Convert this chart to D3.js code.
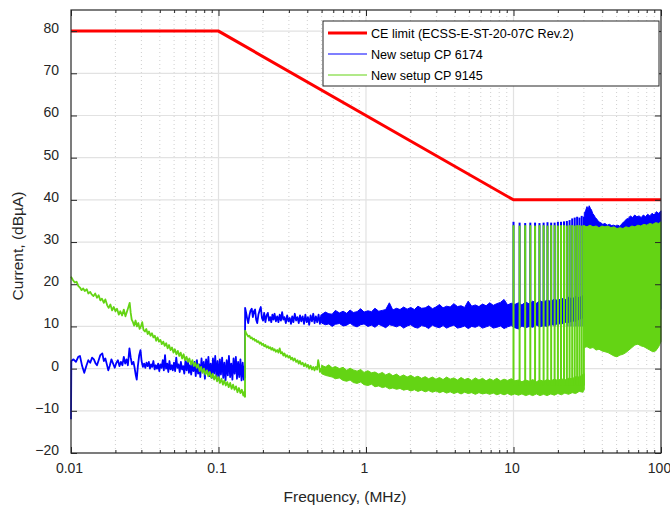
<!DOCTYPE html>
<html>
<head>
<meta charset="utf-8">
<script src="https://cdn.jsdelivr.net/npm/d3@7/dist/d3.min.js"></script>
<style>
  body { margin: 0; background: #fff; }
  svg { display: block; font-family: "Liberation Sans", Arial, Helvetica, sans-serif; }
</style>
</head>
<body>
<div id="chart"></div>
<script>
// ce_plot.js - conducted emission spectrum vs. ECSS limit

// axis ticks
const xTicks = [0.01, 0.1, 1, 10, 100];
const xTickLabels = ['0.01', '0.1', '1', '10', '100'];
const yTicks = [-20, -10, 0, 10, 20, 30, 40, 50, 60, 70, 80];

// legend entries
const seriesNames = ['CE limit (ECSS-E-ST-20-07C Rev.2)', 'New setup CP 6174', 'New setup CP 9145'];

// CE limit [MHz, dBuA]
const limitLine = [[0.01, 80], [0.1, 80], [10, 40], [100, 40]];

// CP 6174, single trace up to 0.15 MHz
const blueLow = [
  [0.0100, -12.0], [0.01005, 1.8], [0.0104, 2.2], [0.0108, 1.6], [0.0112, 2.8], [0.0115, 3.0],
  [0.0119, 0.6], [0.0123, -1.0], [0.0127, 0.6], [0.0131, 2.0], [0.0135, 1.4], [0.0139, 2.6],
  [0.0143, 2.2], [0.0147, 1.2], [0.0150, 0.8], [0.0154, 2.0], [0.0158, 3.2], [0.0163, 3.6],
  [0.0167, 1.8], [0.0171, 2.4], [0.0175, 1.0], [0.0179, -0.4], [0.0183, 0.6], [0.0188, 2.2],
  [0.0193, 1.2], [0.0198, 0.2], [0.0203, 1.4], [0.0208, 2.0], [0.0213, 0.6], [0.0218, 1.6],
  [0.0223, 0.8], [0.0228, 2.8], [0.0233, 1.2], [0.0238, 2.2], [0.0243, 0.8], [0.0249, 4.8],
  [0.0254, 2.6], [0.0259, 1.0], [0.0265, 1.6], [0.0270, 0.2], [0.0275, -1.6], [0.0279, -2.6],
  [0.0284, 0.6], [0.0290, 3.2], [0.0296, 4.4], [0.0301, 1.8], [0.0307, 0.4], [0.0313, 1.2],
  [0.0319, 0.2], [0.0325, 1.4], [0.0331, 0.6], [0.0337, 1.6], [0.0343, 0.0], [0.0349, 1.0],
  [0.0355, 0.4], [0.0362, 1.8], [0.0369, -0.2], [0.0376, 0.8], [0.0383, 0.0], [0.0390, 1.2],
  [0.0397, -0.6], [0.0404, 1.0], [0.0411, 0.2], [0.0419, 2.0], [0.0426, -0.4], [0.0434, 3.2],
  [0.0441, 0.0], [0.0449, 1.2], [0.0457, -0.8], [0.0465, 1.8], [0.0473, -0.2], [0.0482, 0.8],
  [0.0490, -0.4], [0.0499, 1.4], [0.0508, -0.6], [0.0517, 2.6], [0.0527, 0.2], [0.0536, 1.0],
  [0.0546, -0.8], [0.0556, 1.6], [0.0566, -0.2], [0.0576, 0.6], [0.0586, -1.2], [0.0597, 1.8],
  [0.0608, -0.4], [0.0619, 2.2], [0.0630, -1.0], [0.0641, 0.8], [0.0653, -1.4], [0.0664, 1.2],
  [0.0676, -0.6], [0.0689, 1.6], [0.0701, -1.8], [0.0714, 2.0], [0.0727, -1.2], [0.0740, 1.0],
  [0.0753, -2.0], [0.0767, 2.4], [0.0780, -0.6], [0.0795, 1.6], [0.0809, -2.4], [0.0824, 2.2],
  [0.0838, -1.0], [0.0854, 2.8], [0.0869, -1.8], [0.0885, 1.2], [0.0901, -2.2], [0.0917, 2.4],
  [0.0933, -1.2], [0.0950, 3.0], [0.0967, -2.0], [0.0985, 1.8], [0.1003, -2.6], [0.1021, 2.2],
  [0.1039, -1.4], [0.1058, 2.6], [0.1077, -2.2], [0.1096, 1.4], [0.1116, -2.8], [0.1136, 2.0],
  [0.1157, -1.6], [0.1177, 3.0], [0.1199, -2.0], [0.1220, 1.2], [0.1242, -2.6], [0.1265, 2.4],
  [0.1287, -1.2], [0.1311, 2.8], [0.1334, -2.4], [0.1358, 1.6], [0.1383, -2.0], [0.1408, 2.2],
  [0.1433, -2.8], [0.1459, 1.4], [0.1485, -2.6], [0.1505, 0.6], [0.1512, -2.2]
];

// CP 6174, 0.15 - 0.5 MHz
const blueMid = [
  [0.1512, -2.2], [0.1515, 14.4], [0.1540, 13.2], [0.1565, 11.8], [0.1590, 10.8], [0.1620, 12.6],
  [0.1650, 13.8], [0.1680, 14.2], [0.1710, 12.2], [0.1740, 13.6], [0.1770, 14.0], [0.1800, 11.6],
  [0.1830, 10.8], [0.1865, 12.8], [0.1900, 13.8], [0.1935, 14.6], [0.1970, 12.0], [0.2005, 11.4],
  [0.2040, 13.2], [0.2080, 11.0], [0.2120, 12.6], [0.2160, 13.2], [0.2200, 11.4], [0.2240, 12.2],
  [0.2280, 11.0], [0.2320, 12.8], [0.2360, 11.6], [0.2400, 13.0], [0.2450, 11.2], [0.2500, 12.4],
  [0.2550, 11.0], [0.2600, 12.8], [0.2650, 11.4], [0.2700, 13.4], [0.2750, 11.6], [0.2800, 12.2],
  [0.2860, 10.8], [0.2920, 12.6], [0.2980, 11.2], [0.3040, 12.0], [0.3100, 10.6], [0.3160, 12.4],
  [0.3220, 11.0], [0.3290, 13.0], [0.3360, 11.4], [0.3430, 12.2], [0.3500, 10.8], [0.3570, 12.6],
  [0.3640, 11.2], [0.3720, 12.4], [0.3800, 10.6], [0.3880, 12.8], [0.3960, 11.0], [0.4040, 12.2],
  [0.4120, 10.4], [0.4210, 12.6], [0.4300, 11.2], [0.4390, 13.0], [0.4480, 10.8], [0.4570, 12.4],
  [0.4670, 11.0], [0.4770, 12.8], [0.4870, 10.6], [0.4970, 12.6], [0.5000, 11.4]
];

// CP 6174, dense part 0.5 - 30 MHz [MHz, low, high]
const blueBand = [
  [0.50, 10.8, 12.8], [0.53, 10.4, 13.4], [0.56, 10.6, 13.0], [0.59, 10.0, 12.9], [0.62, 10.5, 13.8],
  [0.66, 10.7, 13.2], [0.70, 10.1, 13.6], [0.74, 10.3, 13.1], [0.78, 10.8, 13.9], [0.82, 10.2, 13.3],
  [0.87, 9.9, 13.5], [0.92, 10.4, 14.2], [0.97, 10.6, 13.4], [1.03, 10.0, 13.7], [1.09, 10.3, 13.5],
  [1.15, 9.8, 14.3], [1.22, 10.5, 13.6], [1.29, 10.1, 13.8], [1.36, 9.7, 14.0], [1.44, 10.4, 15.6],
  [1.52, 10.2, 13.9], [1.61, 9.9, 14.3], [1.70, 10.3, 14.0], [1.80, 9.6, 14.6], [1.90, 10.1, 14.1],
  [2.01, 10.4, 14.5], [2.13, 9.8, 14.0], [2.25, 9.6, 14.8], [2.38, 10.2, 14.3], [2.52, 10.0, 14.4],
  [2.66, 9.5, 14.9], [2.82, 10.3, 14.2], [2.98, 9.9, 14.6], [3.15, 9.7, 15.2], [3.33, 10.2, 14.4],
  [3.52, 9.6, 14.8], [3.72, 10.0, 14.6], [3.94, 10.3, 15.4], [4.17, 9.6, 14.7], [4.41, 9.8, 14.9],
  [4.66, 10.1, 14.5], [4.93, 9.5, 16.0], [5.21, 10.0, 14.8], [5.51, 9.8, 15.1], [5.83, 10.2, 14.7],
  [6.17, 9.6, 15.3], [6.52, 9.9, 14.9], [6.90, 10.2, 15.6], [7.29, 9.6, 15.0], [7.71, 9.8, 15.4],
  [8.16, 10.1, 15.7], [8.63, 9.5, 16.4], [9.12, 9.9, 15.1], [9.65, 10.2, 15.5], [10.2, 9.7, 15.2],
  [10.8, 9.4, 15.6], [11.4, 10.1, 15.1], [12.1, 9.7, 15.8], [12.8, 10.0, 15.3], [13.5, 9.8, 16.0],
  [14.3, 10.3, 15.5], [15.1, 9.9, 16.1], [16.0, 10.2, 15.7], [16.9, 10.0, 16.3], [17.9, 10.5, 15.9],
  [18.9, 10.3, 16.5], [20.0, 10.7, 16.1], [21.1, 10.5, 16.7], [22.3, 11.0, 16.3], [23.6, 10.9, 16.9],
  [25.0, 11.3, 16.5], [26.4, 11.2, 17.1], [27.9, 11.7, 16.8], [29.5, 12.0, 17.3], [30.2, 12.0, 17.0]
];

// CP 6174, harmonic spikes 10 - 30 MHz [MHz, bottom, top]
const blueSpikes = [
  [10, 10.0, 34.8], [11, 10.0, 34.6], [12, 10.0, 34.5], [13, 10.0, 34.6], [14, 10.0, 34.6],
  [15, 10.0, 34.5], [16, 10.0, 34.6], [17, 10.0, 34.7], [18, 10.0, 34.6], [19, 10.0, 34.6],
  [20, 10.0, 34.8], [21, 10.0, 34.8], [22, 10.0, 34.9], [23, 10.0, 35.0], [24, 10.0, 35.2],
  [25, 10.0, 35.6], [26, 10.0, 35.8], [27, 10.0, 36.0], [28, 10.0, 35.8], [29, 10.0, 36.2],
  [30, 10.0, 36.0]
];

// CP 6174, 30 - 100 MHz [MHz, low, high]
const blueHigh = [
  [30.2, 14.0, 36.8], [30.8, 14.0, 37.4], [31.5, 14.0, 38.4], [32.0, 14.0, 37.6], [32.6, 14.0, 38.6],
  [33.2, 14.0, 38.0], [33.8, 14.0, 37.6], [34.4, 14.0, 36.8], [35.1, 14.0, 36.4], [35.9, 14.0, 35.8],
  [36.8, 14.0, 35.4], [37.8, 14.0, 34.8], [39.0, 14.0, 34.6], [40.3, 14.0, 34.2], [41.7, 14.0, 34.4],
  [43.2, 14.0, 34.0], [44.7, 14.0, 34.2], [46.2, 14.0, 33.9], [47.8, 14.0, 34.0], [49.4, 14.0, 33.8],
  [51.0, 14.0, 34.0], [52.7, 14.0, 33.7], [54.4, 14.0, 34.4], [56.2, 14.0, 34.8], [58.1, 14.0, 35.4],
  [60.0, 14.0, 35.6], [62.0, 14.0, 36.2], [64.1, 14.0, 35.8], [66.3, 14.0, 36.4], [68.6, 14.0, 36.0],
  [71.0, 14.0, 36.2], [73.4, 14.0, 35.8], [75.9, 14.0, 36.4], [78.5, 14.0, 36.0], [81.2, 14.0, 36.6],
  [84.0, 14.0, 36.2], [86.9, 14.0, 36.8], [89.9, 14.0, 36.4], [93.0, 14.0, 37.2], [96.2, 14.0, 36.8],
  [100, 14.0, 37.4]
];

// CP 9145, single trace up to 0.15 MHz
const greenLow = [
  [0.0100, 21.8], [0.0103, 21.0], [0.0106, 20.4], [0.0109, 20.6], [0.0112, 19.6], [0.0115, 19.2],
  [0.0118, 18.6], [0.0121, 19.0], [0.0124, 18.4], [0.0128, 18.8], [0.0131, 17.8], [0.0135, 18.2],
  [0.0138, 17.6], [0.0142, 17.2], [0.0146, 17.8], [0.0150, 16.8], [0.0154, 17.4], [0.0158, 16.2],
  [0.0162, 16.6], [0.0167, 15.6], [0.0171, 16.4], [0.0176, 15.0], [0.0180, 14.4], [0.0185, 15.2],
  [0.0190, 13.8], [0.0195, 14.6], [0.0200, 13.6], [0.0205, 14.2], [0.0211, 12.8], [0.0216, 13.6],
  [0.0222, 12.6], [0.0228, 14.0], [0.0234, 12.4], [0.0240, 13.6], [0.0246, 14.8], [0.0250, 15.6],
  [0.0254, 13.2], [0.0258, 11.6], [0.0263, 11.0], [0.0268, 10.2], [0.0274, 11.4], [0.0280, 10.0],
  [0.0286, 10.8], [0.0292, 9.4], [0.0298, 10.0], [0.0304, 11.0], [0.0310, 9.2], [0.0317, 8.8],
  [0.0324, 9.4], [0.0331, 8.2], [0.0338, 8.8], [0.0346, 7.8], [0.0354, 8.4], [0.0362, 7.4],
  [0.0370, 7.8], [0.0378, 6.6], [0.0386, 7.4], [0.0395, 6.4], [0.0404, 6.8], [0.0413, 5.8],
  [0.0422, 6.4], [0.0432, 5.4], [0.0442, 6.0], [0.0452, 4.8], [0.0462, 5.6], [0.0473, 4.4],
  [0.0484, 5.0], [0.0495, 3.8], [0.0506, 4.6], [0.0518, 3.4], [0.0530, 4.2], [0.0542, 3.0],
  [0.0554, 3.8], [0.0567, 2.4], [0.0580, 3.4], [0.0593, 2.0], [0.0607, 2.8], [0.0621, 1.6],
  [0.0635, 2.4], [0.0650, 1.0], [0.0665, 2.0], [0.0680, 0.6], [0.0696, 1.4], [0.0712, 0.2],
  [0.0728, 1.0], [0.0745, -0.6], [0.0762, 0.4], [0.0779, -1.0], [0.0797, 0.0], [0.0815, -1.4],
  [0.0834, -0.4], [0.0853, -1.8], [0.0873, -0.8], [0.0893, -2.2], [0.0913, -1.2], [0.0934, -2.6],
  [0.0956, -1.6], [0.0978, -3.0], [0.1000, -2.0], [0.1023, -3.4], [0.1047, -2.4], [0.1071, -3.8],
  [0.1095, -2.8], [0.1121, -4.0], [0.1146, -3.2], [0.1173, -4.4], [0.1200, -3.4], [0.1227, -4.8],
  [0.1256, -3.8], [0.1285, -5.0], [0.1314, -4.2], [0.1345, -5.6], [0.1376, -4.6], [0.1407, -5.8],
  [0.1440, -5.0], [0.1473, -6.4], [0.1500, -5.4], [0.1512, -6.8]
];

// CP 9145, 0.15 - 0.5 MHz
const greenMid = [
  [0.1512, -6.8], [0.1515, 9.0], [0.1540, 8.4], [0.1565, 8.0], [0.1590, 7.6], [0.1620, 7.8],
  [0.1650, 7.2], [0.1680, 7.4], [0.1710, 6.9], [0.1740, 7.1], [0.1770, 6.6], [0.1800, 6.8],
  [0.1830, 6.3], [0.1865, 6.5], [0.1900, 5.9], [0.1935, 6.2], [0.1970, 5.6], [0.2005, 5.9],
  [0.2040, 5.3], [0.2080, 5.6], [0.2120, 5.0], [0.2160, 5.3], [0.2200, 4.8], [0.2240, 5.1],
  [0.2280, 4.5], [0.2320, 4.9], [0.2360, 4.3], [0.2400, 4.6], [0.2450, 4.0], [0.2500, 4.4],
  [0.2550, 3.8], [0.2600, 4.8], [0.2650, 3.6], [0.2700, 3.9], [0.2750, 3.1], [0.2800, 3.6],
  [0.2860, 2.8], [0.2920, 3.2], [0.2980, 2.6], [0.3040, 3.0], [0.3100, 2.2], [0.3160, 2.6],
  [0.3220, 1.9], [0.3290, 2.4], [0.3360, 1.6], [0.3430, 2.0], [0.3500, 1.2], [0.3570, 1.8],
  [0.3640, 1.0], [0.3720, 1.4], [0.3800, 0.6], [0.3880, 1.2], [0.3960, 0.4], [0.4040, 0.9],
  [0.4120, 0.0], [0.4210, 0.7], [0.4300, -0.2], [0.4390, 0.4], [0.4480, -0.4], [0.4570, 0.4],
  [0.4670, -0.2], [0.4740, 2.0], [0.4800, 1.0], [0.4870, -0.8], [0.4970, 0.0], [0.5000, -0.2]
];

// CP 9145, dense part 0.5 - 30 MHz [MHz, low, high]
const greenBand = [
  [0.50, -1.2, 0.8], [0.53, -1.6, 0.4], [0.56, -1.8, 0.9], [0.59, -2.0, 0.2], [0.62, -2.4, 0.5],
  [0.66, -2.2, 0.0], [0.70, -2.8, 0.3], [0.74, -3.0, -0.4], [0.78, -2.7, 0.1], [0.82, -3.3, -0.3],
  [0.87, -3.5, -0.6], [0.92, -3.2, -0.2], [0.97, -3.8, -0.9], [1.03, -4.0, -0.5], [1.09, -3.7, -1.0],
  [1.15, -4.3, -0.8], [1.22, -4.1, -1.3], [1.29, -4.5, -0.9], [1.36, -4.3, -1.5], [1.44, -4.8, -1.1],
  [1.52, -4.6, -1.7], [1.61, -4.9, -1.3], [1.70, -4.7, -1.9], [1.80, -5.1, -1.5], [1.90, -4.9, -2.0],
  [2.01, -5.3, -1.6], [2.13, -5.0, -2.1], [2.25, -5.4, -1.8], [2.38, -5.1, -2.3], [2.52, -5.5, -1.9],
  [2.66, -5.2, -2.4], [2.82, -5.6, -2.0], [2.98, -5.3, -2.5], [3.15, -5.7, -2.1], [3.33, -5.4, -2.6],
  [3.52, -5.8, -2.0], [3.72, -5.5, -2.5], [3.94, -5.9, -2.2], [4.17, -5.6, -2.7], [4.41, -6.0, -2.1],
  [4.66, -5.6, -2.6], [4.93, -5.9, -2.3], [5.21, -5.7, -2.8], [5.51, -6.1, -2.2], [5.83, -5.7, -2.7],
  [6.17, -6.0, -2.3], [6.52, -5.8, -2.9], [6.90, -6.1, -2.4], [7.29, -5.8, -2.8], [7.71, -6.2, -2.3],
  [8.16, -5.9, -2.9], [8.63, -6.2, -2.5], [9.12, -5.9, -2.8], [9.65, -6.3, -2.4], [10.2, -6.0, -2.9],
  [10.8, -6.3, -2.7], [11.4, -6.0, -3.1], [12.1, -6.4, -2.7], [12.8, -6.1, -3.0], [13.5, -6.4, -2.6],
  [14.3, -6.0, -3.1], [15.1, -6.4, -2.7], [16.0, -6.1, -3.0], [16.9, -6.4, -2.6], [17.9, -6.0, -2.9],
  [18.9, -6.3, -2.5], [20.0, -5.9, -2.8], [21.1, -6.2, -2.4], [22.3, -5.8, -2.7], [23.6, -6.1, -2.3],
  [25.0, -5.7, -2.4], [26.4, -5.9, -1.9], [27.9, -5.4, -2.0], [29.5, -5.6, -1.4], [30.2, -5.0, -1.2]
];

// CP 9145, harmonic spikes 10 - 30 MHz [MHz, bottom, top]
const greenSpikes = [
  [10, -4.0, 34.0], [11, -4.0, 33.9], [12, -4.0, 34.0], [13, -4.0, 34.0], [14, -4.0, 33.9],
  [15, -4.0, 34.0], [16, -4.0, 34.0], [17, -4.0, 33.9], [18, -4.0, 34.0], [19, -4.0, 34.0],
  [20, -4.0, 33.9], [21, -4.0, 34.0], [22, -4.0, 34.0], [23, -4.0, 33.9], [24, -4.0, 34.0],
  [25, -4.0, 34.0], [26, -4.0, 33.9], [27, -4.0, 34.0], [28, -4.0, 34.0], [29, -4.0, 33.9],
  [30, -4.0, 34.0]
];

// CP 9145, 30 - 100 MHz [MHz, low, high]
const greenHigh = [
  [30.2, 5.0, 33.8], [31.5, 5.2, 33.6], [33.0, 4.8, 34.0], [34.6, 5.0, 33.6], [36.3, 4.4, 33.8],
  [38.0, 4.6, 33.4], [39.8, 4.2, 33.8], [41.7, 4.0, 33.6], [43.7, 3.8, 33.8], [45.8, 3.4, 33.4],
  [48.0, 3.0, 33.6], [50.3, 2.8, 33.2], [52.7, 3.2, 33.4], [55.2, 3.4, 33.2], [57.8, 3.8, 33.6],
  [60.6, 4.4, 33.4], [63.5, 5.0, 33.8], [66.5, 5.6, 33.6], [69.7, 5.8, 34.0], [73.0, 5.4, 33.8],
  [76.5, 5.2, 34.2], [80.1, 4.8, 34.0], [83.9, 4.4, 34.4], [87.9, 4.0, 34.2], [92.1, 4.2, 34.6],
  [96.5, 5.2, 34.4], [100, 6.4, 34.8]
];

const width = 670, height = 506;
const margin = { top: 10, right: 9, bottom: 53, left: 71 };
const colors = { limit: '#ff0000', blue: '#0000ff', green: '#64d414', axis: '#262626' };

function initChart() {
    const svg = d3.select('#chart')
        .append('svg')
        .attr('width', width)
        .attr('height', height)
        .style('background', '#fff');

    const x = d3.scaleLog()
        .domain([0.01, 100])
        .range([margin.left, width - margin.right]);

    const y = d3.scaleLinear()
        .domain([-20, 85])
        .range([height - margin.bottom, margin.top]);

    const x0 = margin.left, x1 = width - margin.right;
    const y0 = height - margin.bottom, y1 = margin.top;

    // log minor ticks (2..9 of each decade)
    const minorTicks = x.ticks().filter(d => Math.abs(Math.log10(d) - Math.round(Math.log10(d))) > 1e-6);

    // grid
    const grid = svg.append('g');
    grid.selectAll('.minor-x')
        .data(minorTicks)
        .join('line')
        .attr('x1', d => x(d)).attr('x2', d => x(d))
        .attr('y1', y0).attr('y2', y1)
        .attr('stroke', '#cfcfcf')
        .attr('stroke-width', 1)
        .attr('stroke-dasharray', '1,3');
    grid.selectAll('.major-x')
        .data(xTicks.slice(1, -1))
        .join('line')
        .attr('x1', d => x(d)).attr('x2', d => x(d))
        .attr('y1', y0).attr('y2', y1)
        .attr('stroke', '#e2e2e2')
        .attr('stroke-width', 1.2);
    grid.selectAll('.major-y')
        .data(yTicks.slice(1))
        .join('line')
        .attr('x1', x0).attr('x2', x1)
        .attr('y1', d => y(d)).attr('y2', d => y(d))
        .attr('stroke', '#e2e2e2')
        .attr('stroke-width', 1.2);

    const line = d3.line().x(d => x(d[0])).y(d => y(d[1]));
    const band = d3.area().x(d => x(d[0])).y0(d => y(d[1])).y1(d => y(d[2]));

    const plot = svg.append('g');

    // limit
    plot.append('path')
        .attr('d', line(limitLine))
        .attr('fill', 'none')
        .attr('stroke', colors.limit)
        .attr('stroke-width', 3);

    // one measured trace: single lines, dense bands, spikes
    function drawTrace(color, lines, bands, spikes) {
        const g = plot.append('g');
        bands.forEach(b => {
            g.append('path')
                .attr('d', band(b))
                .attr('fill', color)
                .attr('stroke', color)
                .attr('stroke-width', 1)
                .attr('stroke-linejoin', 'miter');
        });
        g.selectAll('.spike')
            .data(spikes)
            .join('line')
            .attr('x1', d => x(d[0])).attr('x2', d => x(d[0]))
            .attr('y1', d => y(d[1])).attr('y2', d => y(d[2]))
            .attr('stroke', color)
            .attr('stroke-width', 2);
        lines.forEach(l => {
            g.append('path')
                .attr('d', line(l))
                .attr('fill', 'none')
                .attr('stroke', color)
                .attr('stroke-width', 1.8)
                .attr('stroke-linejoin', 'round');
        });
    }

    drawTrace(colors.blue, [blueLow, blueMid], [blueBand, blueHigh], blueSpikes);
    drawTrace(colors.green, [greenLow, greenMid], [greenBand, greenHigh], greenSpikes);

    // axes with inward ticks
    const axes = svg.append('g')
        .attr('font-family', '"Liberation Sans", Arial, Helvetica, sans-serif');

    const bottomAxis = d3.axisBottom(x)
        .tickValues(xTicks)
        .tickFormat((d, i) => xTickLabels[i])
        .tickSizeInner(-6)
        .tickSizeOuter(0)
        .tickPadding(10);
    const gx = axes.append('g')
        .attr('transform', `translate(0, ${y0})`)
        .call(bottomAxis);
    gx.selectAll('text').attr('dx', '-2');

    axes.append('g')
        .attr('transform', `translate(0, ${y0})`)
        .call(d3.axisBottom(x).tickValues(minorTicks).tickFormat('').tickSizeInner(-3).tickSizeOuter(0));
    axes.append('g')
        .attr('transform', `translate(0, ${y1})`)
        .call(d3.axisTop(x).tickValues(xTicks).tickFormat('').tickSizeInner(-6).tickSizeOuter(0));
    axes.append('g')
        .attr('transform', `translate(0, ${y1})`)
        .call(d3.axisTop(x).tickValues(minorTicks).tickFormat('').tickSizeInner(-3).tickSizeOuter(0));

    const gy = axes.append('g')
        .attr('transform', `translate(${x0}, 0)`)
        .call(d3.axisLeft(y).tickValues(yTicks).tickSizeInner(-6).tickSizeOuter(0).tickPadding(12));
    gy.selectAll('text').attr('dy', '0.1em');

    axes.append('g')
        .attr('transform', `translate(${x1}, 0)`)
        .call(d3.axisRight(y).tickValues(yTicks).tickFormat('').tickSizeInner(-6).tickSizeOuter(0));

    axes.selectAll('.domain').remove();
    axes.selectAll('.tick line').attr('stroke', colors.axis).attr('stroke-width', 1);
    axes.selectAll('.tick text')
        .attr('fill', colors.axis)
        .attr('font-size', '14px');

    // frame
    axes.append('rect')
        .attr('x', x0).attr('y', y1)
        .attr('width', x1 - x0).attr('height', y0 - y1)
        .attr('fill', 'none')
        .attr('stroke', colors.axis)
        .attr('stroke-width', 1.2);

    // axis titles
    svg.append('text')
        .attr('x', 345)
        .attr('y', 502)
        .attr('text-anchor', 'middle')
        .attr('font-size', '15.5px')
        .attr('fill', colors.axis)
        .text('Frequency, (MHz)');

    svg.append('text')
        .attr('transform', 'translate(23, 246) rotate(-90)')
        .attr('text-anchor', 'middle')
        .attr('font-size', '15.5px')
        .attr('fill', colors.axis)
        .text('Current, (dBµA)');

    addLegend(svg);
}

function addLegend(svg) {
    const styles = [
        { color: colors.limit, width: 3 },
        { color: colors.blue, width: 1.2 },
        { color: colors.green, width: 1.2 }
    ];
    const legend = svg.append('g').attr('transform', 'translate(323, 21)');

    legend.append('rect')
        .attr('width', 336)
        .attr('height', 65)
        .attr('fill', '#fff')
        .attr('stroke', colors.axis)
        .attr('stroke-width', 1);

    const items = legend.selectAll('.legend-item')
        .data(seriesNames)
        .join('g')
        .attr('class', 'legend-item')
        .attr('transform', (d, i) => `translate(0, ${12 + i * 21})`);

    items.append('line')
        .attr('x1', 5).attr('x2', 44)
        .attr('stroke', (d, i) => styles[i].color)
        .attr('stroke-width', (d, i) => styles[i].width);

    items.append('text')
        .attr('x', 48)
        .attr('y', 4.5)
        .attr('font-size', '12.6px')
        .attr('fill', '#000')
        .text(d => d);
}

initChart();
</script>
</body>
</html>
